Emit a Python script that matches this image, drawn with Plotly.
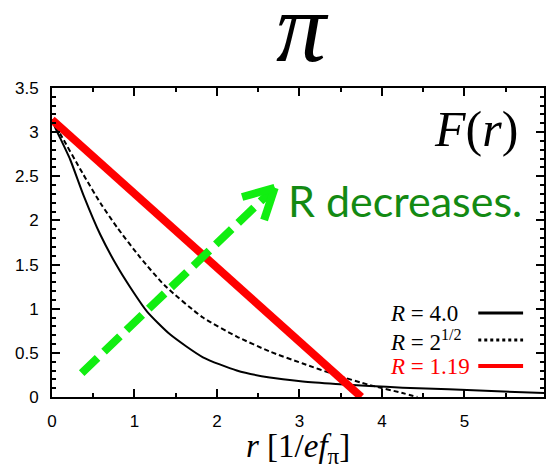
import math
import plotly.graph_objects as go

# Profile functions F(r) for three values of R
r_R4 = [0, 0.04, 0.22, 0.38, 0.585, 0.79, 0.95, 1.15, 1.43, 1.83, 2.24, 2.64,
        3.04, 3.44, 3.85, 4.25, 4.81, 5.4, 6.0]
F_R4 = [3.1416, 3.05, 2.69, 2.29, 1.84, 1.48, 1.24, 0.97, 0.71, 0.45, 0.30,
        0.22, 0.176, 0.148, 0.125, 0.106, 0.088, 0.065, 0.045]

r_Rsqrt2 = [0, 0.1, 0.38, 0.585, 0.79, 1.07, 1.37, 1.83, 2.24, 2.64, 3.04,
            3.44, 3.85, 4.25, 4.43]
F_Rsqrt2 = [3.1416, 2.98, 2.52, 2.2, 1.92, 1.58, 1.26, 0.90, 0.685, 0.515,
            0.38, 0.25, 0.136, 0.045, 0.0]

r_R119 = [0, 3.75]
F_R119 = [3.1416, 0.0]

# "R decreases." arrow: tail and tip in data units
arrow_r = [0.36, 2.70]
arrow_F = [0.27, 2.37]

legend_labels = ["<i>R</i> = 4.0", "<i>R</i> = 2<sup>1/2</sup>", "<i>R</i> = 1.19"]
x_ticks = [0, 1, 2, 3, 4, 5, 6]
y_ticks = [0, 0.5, 1, 1.5, 2, 2.5, 3, 3.5]

W, H = 547, 465
M = dict(l=52, r=1, t=88, b=68)
XR = [0, 5.965]
YR = [0, 3.5]
plot_w = W - M["l"] - M["r"]
plot_h = H - M["t"] - M["b"]
sx = plot_w / (XR[1] - XR[0])   # px per data unit
sy = plot_h / (YR[1] - YR[0])


def paper(px, py):
    return (px - M["l"]) / plot_w, (H - M["b"] - py) / plot_h


fig = go.Figure()
fig.add_trace(go.Scatter(x=r_R4, y=F_R4, mode="lines",
                         line=dict(color="black", width=2, shape="spline", smoothing=0.6)))
fig.add_trace(go.Scatter(x=r_Rsqrt2, y=F_Rsqrt2, mode="lines",
                         line=dict(color="black", width=2, dash="5px,3px",
                                   shape="spline", smoothing=0.6)))
fig.add_trace(go.Scatter(x=r_R119, y=F_R119, mode="lines",
                         line=dict(color="#ff0000", width=8)))

# green dashed arrow with open chevron head
green = "#11ee11"
fig.add_shape(type="line", xref="x", yref="y",
              x0=arrow_r[0], y0=arrow_F[0], x1=arrow_r[1], y1=arrow_F[1],
              line=dict(color=green, width=8, dash="22px,9px"))
dxp = (arrow_r[1] - arrow_r[0]) * sx
dyp = (arrow_F[1] - arrow_F[0]) * sy
ang = math.atan2(dyp, dxp)
for s in (1, -1):
    a = ang + math.pi + s * math.radians(28)
    L = 34
    fig.add_shape(type="line", xref="x", yref="y",
                  x0=arrow_r[1], y0=arrow_F[1],
                  x1=arrow_r[1] + L * math.cos(a) / sx,
                  y1=arrow_F[1] + L * math.sin(a) / sy,
                  line=dict(color=green, width=8))

# legend block: labels on the left, line samples on the right
rows_py = [313, 340, 366]
styles = [("black", 3, "solid"), ("black", 3, "dot"), ("#ff0000", 4, "solid")]
for lab, py, (col, wd, ds) in zip(legend_labels, rows_py, styles):
    xp, yp = paper(389, py)
    fig.add_annotation(xref="paper", yref="paper", x=xp, y=yp, text=lab,
                       showarrow=False, xanchor="left", yanchor="middle",
                       font=dict(family="Liberation Serif", size=23,
                                 color="#ff0000" if col != "black" else "black"))
    x0, _ = paper(480, py)
    x1, _ = paper(525, py)
    fig.add_shape(type="line", xref="paper", yref="paper", x0=x0, x1=x1, y0=yp, y1=yp,
                  line=dict(color=col, width=wd, dash=ds))

# panel labels
xp, yp = paper(478, 129)
fig.add_annotation(xref="paper", yref="paper", x=xp, y=yp, text="<i>F</i>(<i>r</i>)",
                   showarrow=False, xanchor="center", yanchor="middle",
                   font=dict(family="Liberation Serif", size=50, color="black"))
xp, yp = paper(287, 200)
fig.add_annotation(xref="paper", yref="paper", x=xp, y=yp, text="R decreases.",
                   showarrow=False, xanchor="left", yanchor="middle",
                   font=dict(family="Lato", size=43, color="#138a13"))
xp, yp = paper(304, 27)
fig.add_annotation(xref="paper", yref="paper", x=xp, y=yp, text="<i>π</i>",
                   showarrow=False, xanchor="center", yanchor="middle",
                   font=dict(family="Liberation Serif", size=100, color="black"))
xp, yp = paper(299, 448)
fig.add_annotation(xref="paper", yref="paper", x=xp, y=yp,
                   text="<i>r</i> [1/<i>ef</i><sub>π</sub>]",
                   showarrow=False, xanchor="center", yanchor="middle",
                   font=dict(family="Liberation Serif", size=33, color="black"))

axis_common = dict(showline=True, linecolor="black", linewidth=2, mirror="allticks",
                   ticks="inside", tickcolor="black", tickwidth=1.5, ticklen=8,
                   showgrid=False, zeroline=False,
                   tickfont=dict(family="Liberation Sans", size=17, color="black"))
fig.update_xaxes(range=XR, tickvals=x_ticks, ticktext=[str(v) for v in x_ticks],
                 minor=dict(dtick=0.5, ticks="inside", ticklen=4, tickcolor="black",
                            tickwidth=1.5),
                 ticklabelstandoff=8, **axis_common)
fig.update_yaxes(range=YR, tickvals=y_ticks, ticktext=[f"{v:g}" for v in y_ticks],
                 minor=dict(dtick=0.1, ticks="inside", ticklen=4, tickcolor="black",
                            tickwidth=1.5),
                 ticklabelstandoff=8, **axis_common)

fig.update_layout(width=W, height=H, margin=M, showlegend=False,
                  plot_bgcolor="white", paper_bgcolor="white")
fig.write_html("out.html")
